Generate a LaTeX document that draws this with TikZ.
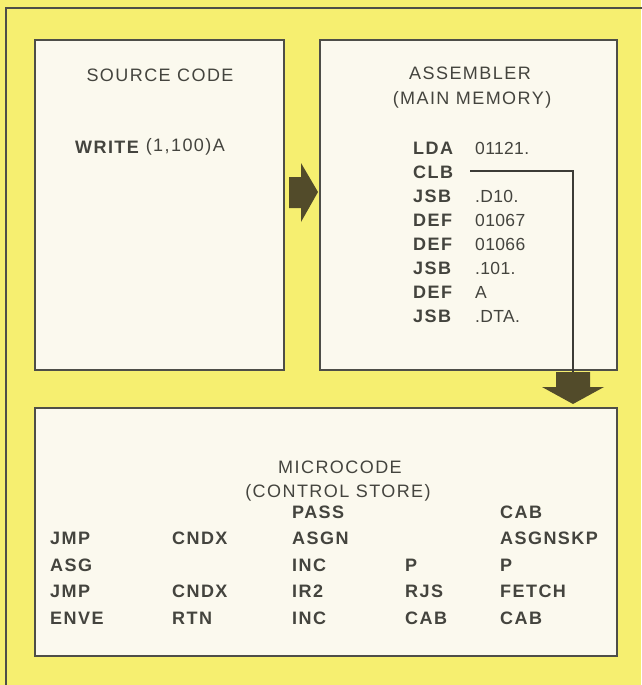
\documentclass[tikz,border=0pt]{standalone}
\usepackage{fontspec}
\setmainfont{Liberation Sans}
\newfontfamily\titlefont[LetterSpace=8]{Liberation Sans}
\newfontfamily\cellfont[LetterSpace=8]{Liberation Sans Bold}
\newfontfamily\opndfont[LetterSpace=2]{Liberation Sans}
\definecolor{bgyellow}{RGB}{246,239,112}
\definecolor{boxfill}{RGB}{251,249,238}
\definecolor{edgegray}{RGB}{78,78,72}
\definecolor{inkgray}{RGB}{68,68,62}
\definecolor{arrowdark}{RGB}{82,75,42}
\definecolor{linkgray}{RGB}{60,60,54}
\tikzset{
  panel/.style={draw=edgegray, line width=2pt, fill=boxfill},
  title/.style={text=inkgray, font=\titlefont\fontsize{18}{21}\selectfont, anchor=center, inner sep=0pt},
  cell/.style={text=inkgray, font=\cellfont\fontsize{18}{21}\selectfont, anchor=west, inner sep=0pt},
  opnd/.style={text=inkgray, font=\opndfont\fontsize{17.5}{21}\selectfont, anchor=west, inner sep=0pt},
  bigarrow/.style={fill=arrowdark, draw=none},
  link/.style={draw=linkgray, line width=2.6pt}
}
\begin{document}
\begin{tikzpicture}[x=1pt,y=-1pt]
\path[use as bounding box] (0,0) rectangle (641,685);
\fill[bgyellow] (0,0) rectangle (641,685);
\draw[edgegray, line width=2pt] (6,690) -- (6,8) -- (646,8);
% panels
\draw[panel] (35,40) rectangle (284,370);
\draw[panel] (320,40) rectangle (617,370);
\draw[panel] (35,408) rectangle (617,656);
% right arrow
\fill[bigarrow] (289,177) -- (301,177) -- (301,163) -- (318,192) -- (301,222) -- (301,208) -- (289,208) -- cycle;
% source
\node[title] (srctitle) at (160,75) {SOURCE CODE};
\node[cell] (srccmd) at (75,147) {WRITE};
\node[opnd, anchor=west] (srcarg) at (srccmd.east) {\titlefont\fontsize{18}{21}\selectfont\ (1,100)A};
% assembler
\node[title] (asmtitle) at (470,73) {ASSEMBLER};
\node[title] (asmsub) at (472,100) {(MAIN MEMORY)};
\foreach \m/\o [count=\i from 0] in {LDA/01121., CLB/, JSB/.D10., DEF/01067, DEF/01066, JSB/.101., DEF/A, JSB/.DTA.}{
  \node[cell] (m\i) at (413,148+24*\i) {\m};
  \node[opnd] (o\i) at (475,148+24*\i) {\o};
}
% microcode
\node[title] (mctitle) at (340,467) {MICROCODE};
\node[title] (mcsub) at (338,493) {(CONTROL STORE)};
\node[cell] (c13) at (292,512) {PASS};
\node[cell] (c15) at (500,512) {CAB};
\node[cell] (c21) at (50,538) {JMP};
\node[cell] (c22) at (172,538) {CNDX};
\node[cell] (c23) at (292,538) {ASGN};
\node[cell] (c25) at (500,538) {ASGNSKP};
\node[cell] (c31) at (50,565) {ASG};
\node[cell] (c33) at (292,565) {INC};
\node[cell] (c34) at (405,565) {P};
\node[cell] (c35) at (500,565) {P};
\node[cell] (c41) at (50,591) {JMP};
\node[cell] (c42) at (172,591) {CNDX};
\node[cell] (c43) at (292,591) {IR2};
\node[cell] (c44) at (405,591) {RJS};
\node[cell] (c45) at (500,591) {FETCH};
\node[cell] (c51) at (50,618) {ENVE};
\node[cell] (c52) at (172,618) {RTN};
\node[cell] (c53) at (292,618) {INC};
\node[cell] (c54) at (405,618) {CAB};
\node[cell] (c55) at (500,618) {CAB};
% connector from CLB to down arrow
\coordinate (clbstart) at (470,171);
\coordinate (downtop) at (573,373);
\draw[link] (clbstart) -| (downtop);
\fill[bigarrow] (556,372) -- (590,372) -- (590,387) -- (604,387) -- (573,404) -- (542,387) -- (556,387) -- cycle;
\end{tikzpicture}
\end{document}
